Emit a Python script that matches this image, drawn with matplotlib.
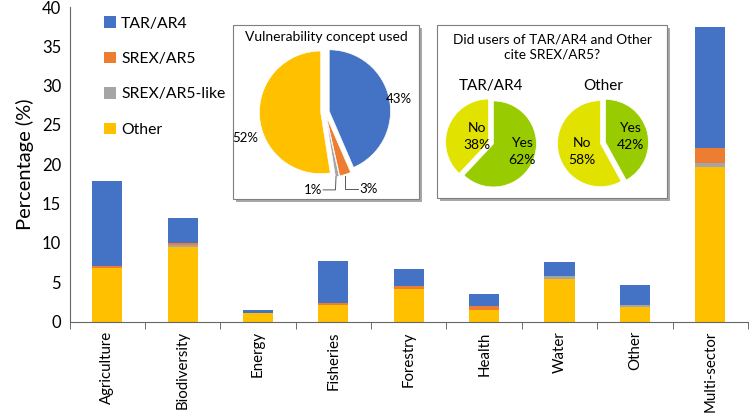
import matplotlib.pyplot as plt
from matplotlib.patches import Rectangle

plt.rcParams['font.family'] = ['Lato', 'DejaVu Sans']

sectors = ["Agriculture", "Biodiversity", "Energy", "Fisheries", "Forestry",
           "Health", "Water", "Other", "Multi-sector"]
other = [6.75, 9.5, 1.05, 2.1, 4.1, 1.5, 5.4, 1.9, 19.7]
srex_like = [0.0, 0.25, 0.0, 0.0, 0.0, 0.0, 0.4, 0.2, 0.45]
srex = [0.25, 0.25, 0.05, 0.25, 0.4, 0.45, 0.0, 0.0, 1.95]
tar = [10.9, 3.2, 0.4, 5.4, 2.2, 1.5, 1.8, 2.6, 15.35]

concept_labels = ["TAR/AR4", "SREX/AR5", "SREX/AR5-like", "Other"]
concept_share = [43.5, 3.0, 1.0, 52.5]
tar_users = [62, 38]      # Yes, No
other_users = [42, 58]    # Yes, No

BLUE, ORANGE, GREY, YELLOW = "#4472C4", "#ED7D31", "#A5A5A5", "#FFC000"
GREEN, LIME = "#99CC00", "#E2E200"

W, H = 749, 416
fig = plt.figure(figsize=(W / 100, H / 100), dpi=100)


def px(x0, y0, x1, y1):
    # pixel box (top-left origin) -> figure fraction rect
    return [x0 / W, 1 - y1 / H, (x1 - x0) / W, (y1 - y0) / H]


ax = fig.add_axes(px(69.5, 7, 748, 321.5))
x = range(len(sectors))
b = [0] * len(sectors)
for vals, col, lab in [(other, YELLOW, "Other"), (srex_like, GREY, "SREX/AR5-like"),
                       (srex, ORANGE, "SREX/AR5"), (tar, BLUE, "TAR/AR4")]:
    ax.bar(x, vals, 0.4, bottom=b, color=col, label=lab)
    b = [p + q for p, q in zip(b, vals)]

ax.set_xlim(-0.5, 8.5)
ax.set_ylim(0, 40)
ax.set_yticks(range(0, 41, 5))
ax.tick_params(axis='y', length=0, labelsize=12, pad=6)
ax.set_xticks(list(x))
ax.set_xticklabels(sectors, rotation=90, fontsize=10.8)
ax.tick_params(axis='x', which='major', length=0, pad=7)
ax.set_xticks([i - 0.5 for i in range(len(sectors) + 1)], minor=True)
ax.tick_params(axis='x', which='minor', length=5, color='#555555')
ax.set_ylabel("Percentage (%)", fontsize=14.5, labelpad=6)
for s in ['top', 'right']:
    ax.spines[s].set_visible(False)
ax.spines['left'].set_color('#666666')
ax.spines['bottom'].set_color('#666666')

h, l = ax.get_legend_handles_labels()
ax.legend(h[::-1], l[::-1], loc='upper left', bbox_to_anchor=(0.03, 1.015),
          frameon=False, fontsize=11.3, labelspacing=1.35, handlelength=0.75,
          handleheight=0.75, handletextpad=0.35)


def box(x0, y0, x1, y1):
    fig.patches.append(Rectangle((x0 / W + 3 / W, 1 - y1 / H - 3 / H), (x1 - x0) / W,
                                 (y1 - y0) / H, transform=fig.transFigure,
                                 facecolor='#A8A8A8', edgecolor='none', zorder=2))
    fig.patches.append(Rectangle((x0 / W, 1 - y1 / H), (x1 - x0) / W, (y1 - y0) / H,
                                 transform=fig.transFigure, facecolor='white',
                                 edgecolor='#7F7F7F', lw=0.8, zorder=2))


box(233, 25, 419, 199)
box(437, 25, 667, 198)

fig.text(326 / W, 1 - 37 / H, "Vulnerability concept used", ha='center', va='center',
         fontsize=10, zorder=4)

# Pie 1
p1 = fig.add_axes(px(233, 20, 417, 204))
p1.set_zorder(3)
p1.pie(concept_share, colors=[BLUE, ORANGE, GREY, YELLOW], startangle=90,
       counterclock=False, explode=[0.07, 0.07, 0.07, 0.07],
       wedgeprops=dict(edgecolor='white', linewidth=0.5))
p1.set_xlim(-1.5, 1.5)
p1.set_ylim(-1.5, 1.5)
p1.axis('off')
fs = 9.5
p1.text(1.2, 0.22, "43%", ha='center', va='center', fontsize=fs)
p1.text(-1.3, -0.42, "52%", ha='center', va='center', fontsize=fs)
p1.text(-0.05, -1.27, "1%", ha='right', va='center', fontsize=fs)
p1.text(0.56, -1.25, "3%", ha='left', va='center', fontsize=fs)
p1.plot([-0.03, 0.17, 0.18], [-1.27, -1.27, -1.05], color='#595959', lw=0.7)
p1.plot([0.33, 0.33, 0.53], [-1.05, -1.25, -1.25], color='#595959', lw=0.7)

# Inset 2
fig.text(552 / W, 1 - 47 / H, "Did users of TAR/AR4 and Other\ncite SREX/AR5?",
         ha='center', va='center', fontsize=9.8, linespacing=1.35, zorder=4)
for cx, title, vals, ylab, nlab in [(491, "TAR/AR4", tar_users, (0.71, -0.2), (-0.33, 0.15)),
                                    (603, "Other", other_users, (0.63, 0.15), (-0.5, -0.2))]:
    pa = fig.add_axes(px(cx - 64.5, 143 - 64.5, cx + 64.5, 143 + 64.5))
    pa.set_zorder(3)
    pa.pie(vals, colors=[GREEN, LIME], startangle=90, counterclock=False,
           explode=[0.06, 0.06], wedgeprops=dict(edgecolor='white', linewidth=0.5))
    pa.set_xlim(-1.5, 1.5)
    pa.set_ylim(-1.5, 1.5)
    pa.axis('off')
    pa.text(ylab[0], ylab[1], "Yes\n%d%%" % vals[0], ha='center', va='center',
            fontsize=10, linespacing=1.45)
    pa.text(nlab[0], nlab[1], "No\n%d%%" % vals[1], ha='center', va='center',
            fontsize=10, linespacing=1.45)
    fig.text(cx / W, 1 - 86 / H, title, ha='center', va='center', fontsize=11, zorder=4)

fig.savefig("out.png", dpi=100)
